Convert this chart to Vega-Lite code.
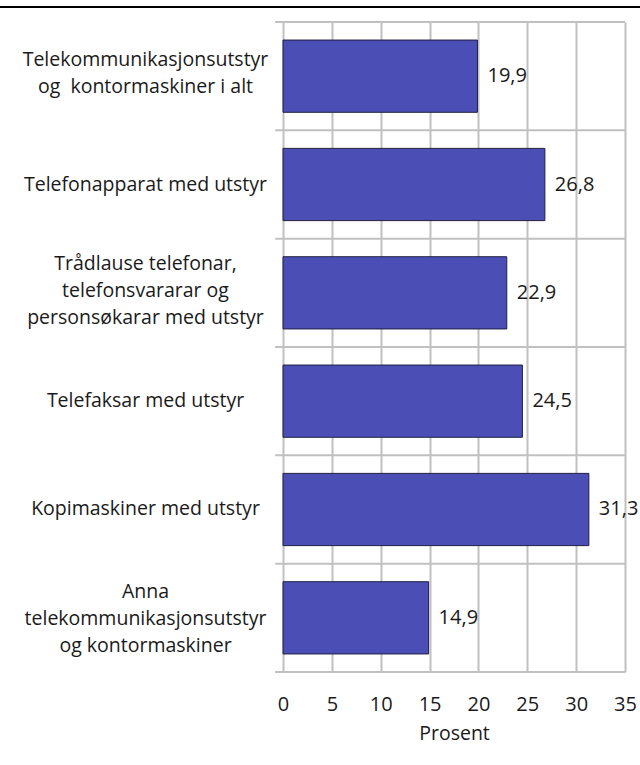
{
  "$schema": "https://vega.github.io/schema/vega-lite/v6.json",
  "width": 342,
  "height": 650,
  "autosize": {"type": "none"},
  "padding": {"left": 283, "top": 22, "right": 15, "bottom": 93},
  "config": {
    "view": {"stroke": null},
    "font": "Open Sans",
    "locale": {"number": {"decimal": ",", "thousands": " ", "grouping": [3], "currency": ["", " kr"]}}
  },
  "data": {
    "values": [
      {"kategori": "Telekommunikasjonsutstyr|og\u00a0 kontormaskiner i alt", "prosent": 19.9},
      {"kategori": "Telefonapparat med utstyr", "prosent": 26.8},
      {"kategori": "Trådlause telefonar,|telefonsvararar og|personsøkarar med utstyr", "prosent": 22.9},
      {"kategori": "Telefaksar med utstyr", "prosent": 24.5},
      {"kategori": "Kopimaskiner med utstyr", "prosent": 31.3},
      {"kategori": "Anna|telekommunikasjonsutstyr|og kontormaskiner", "prosent": 14.9}
    ]
  },
  "layer": [
    {
      "mark": {"type": "rule", "color": "#c0c0c0", "strokeWidth": 2, "clip": false},
      "encoding": {
        "y": {"field": "kategori", "type": "nominal", "bandPosition": -0.25},
        "x": {"datum": -0.8, "type": "quantitative"},
        "x2": {"datum": 35}
      }
    },
    {
      "mark": {"type": "rule", "color": "#c0c0c0", "strokeWidth": 2, "clip": false},
      "encoding": {
        "y": {"datum": "Anna|telekommunikasjonsutstyr|og kontormaskiner", "type": "nominal", "bandPosition": 1.25},
        "x": {"datum": -0.8, "type": "quantitative"},
        "x2": {"datum": 35}
      }
    },
    {
      "mark": {"type": "rule", "color": "#000000", "strokeWidth": 2, "clip": false},
      "encoding": {
        "y": {"datum": "Telekommunikasjonsutstyr|og\u00a0 kontormaskiner i alt", "type": "nominal", "bandPosition": -0.458},
        "x": {"datum": -29, "type": "quantitative"},
        "x2": {"datum": 36.7}
      }
    },
    {
      "mark": {"type": "bar", "fill": "#4b4fb5", "stroke": "#1e1e40", "strokeWidth": 1},
      "encoding": {
        "y": {
          "field": "kategori",
          "type": "nominal",
          "scale": {
            "domain": [
              "Telekommunikasjonsutstyr|og\u00a0 kontormaskiner i alt",
              "Telefonapparat med utstyr",
              "Trådlause telefonar,|telefonsvararar og|personsøkarar med utstyr",
              "Telefaksar med utstyr",
              "Kopimaskiner med utstyr",
              "Anna|telekommunikasjonsutstyr|og kontormaskiner"
            ],
            "paddingInner": 0.3333,
            "paddingOuter": 0.1667
          },
          "axis": {
            "title": null,
            "domain": false,
            "ticks": false,
            "grid": false,
            "labelAlign": "center",
            "labelPadding": 138,
            "labelFontSize": 19.5,
            "labelColor": "#1a1a1a",
            "labelLineHeight": 27,
            "labelLimit": 0,
            "labelOffset": {
              "condition": [
                {"test": "indexof(datum.value, 'Telekommunikasjonsutstyr|') === 0", "value": -16},
                {"test": "indexof(datum.value, 'Trådlause') === 0", "value": -29},
                {"test": "indexof(datum.value, 'Anna|') === 0", "value": -26}
              ],
              "value": 0
            },
            "labelExpr": "split(datum.label, '|')"
          }
        },
        "x": {
          "field": "prosent",
          "type": "quantitative",
          "scale": {"domain": [0, 35], "nice": false},
          "axis": {
            "values": [0, 5, 10, 15, 20, 25, 30, 35],
            "domain": false,
            "ticks": false,
            "grid": true,
            "gridColor": "#c0c0c0",
            "gridWidth": 2,
            "gridOpacity": 1,
            "labelFlush": false,
            "labelFontSize": 20,
            "labelColor": "#1a1a1a",
            "labelPadding": 22,
            "title": "Prosent",
            "titleFontSize": 19.5,
            "titleFontWeight": "normal",
            "titleColor": "#1a1a1a",
            "titlePadding": 10
          }
        }
      }
    },
    {
      "mark": {"type": "text", "align": "left", "baseline": "middle", "dx": 10, "fontSize": 20, "color": "#1a1a1a"},
      "encoding": {
        "y": {"field": "kategori", "type": "nominal"},
        "x": {"field": "prosent", "type": "quantitative"},
        "text": {"field": "prosent", "type": "quantitative", "format": ".1f"}
      }
    }
  ]
}
